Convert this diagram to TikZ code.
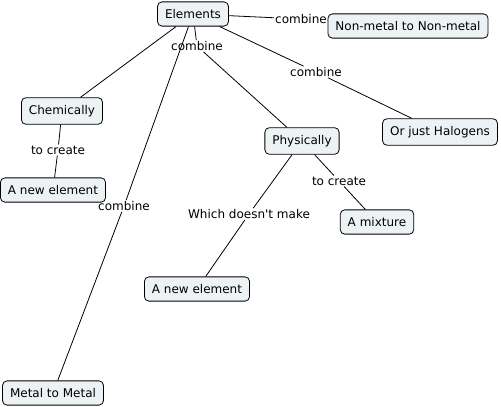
\documentclass[tikz,border=0pt]{standalone}
\usepackage{fontspec}
\setmainfont[Ligatures=TeXOff]{DejaVu Sans}
\usepackage{tikz}

\definecolor{conceptfill}{RGB}{237,243,245}

\begin{document}
\begin{tikzpicture}[x=1pt,y=-1pt,font=\fontsize{12}{14}\selectfont]
      \useasboundingbox (0,0) rectangle (501,407);

      \begin{scope}[every node/.style={draw,line width=0.8pt,rounded corners=4.5pt,
          fill=conceptfill,inner xsep=7.5pt,inner ysep=7.5pt}]
        \node (elements) at (193,14) {Elements};
        \node (nonmetal) at (408,26) {Non-metal to Non-metal};
        \node (chem) at (62,111) {Chemically};
        \node (halogens) at (440,132) {Or just Halogens};
        \node (phys) at (302,141) {Physically};
        \node (newelemA) at (53,190) {A new element};
        \node (mixture) at (377,222) {A mixture};
        \node (newelemB) at (197,289) {A new element};
        \node (metal) at (53,393) {Metal to Metal};
      \end{scope}

      \begin{scope}[every node/.style={inner sep=1pt}]
        \node (combA) at (301,19) {combine};
        \node (combB) at (197,46) {combine};
        \node (combC) at (316,72) {combine};
        \node (combD) at (124,206) {combine};
        \node (createA) at (58,150) {to create};
        \node (createB) at (339,181) {to create};
        \node (notmake) at (249,214) {Which doesn't make};
      \end{scope}

      \begin{scope}[every edge/.style={draw=black,line width=0.8pt}]
        \path (elements) edge (combA);
        \path (combA) edge (nonmetal);
        \path (elements) edge (combB);
        \path (combB) edge (phys);
        \path (elements) edge (combC);
        \path (combC) edge (halogens);
        \path (elements) edge (chem);
        \path (elements) edge (combD);
        \path (combD) edge (metal);
        \path (chem) edge (createA);
        \path (createA) edge (newelemA);
        \path (phys) edge (createB);
        \path (createB) edge (mixture);
        \path (phys) edge (notmake);
        \path (notmake) edge (newelemB);
      \end{scope}
    \end{tikzpicture}
\end{document}
